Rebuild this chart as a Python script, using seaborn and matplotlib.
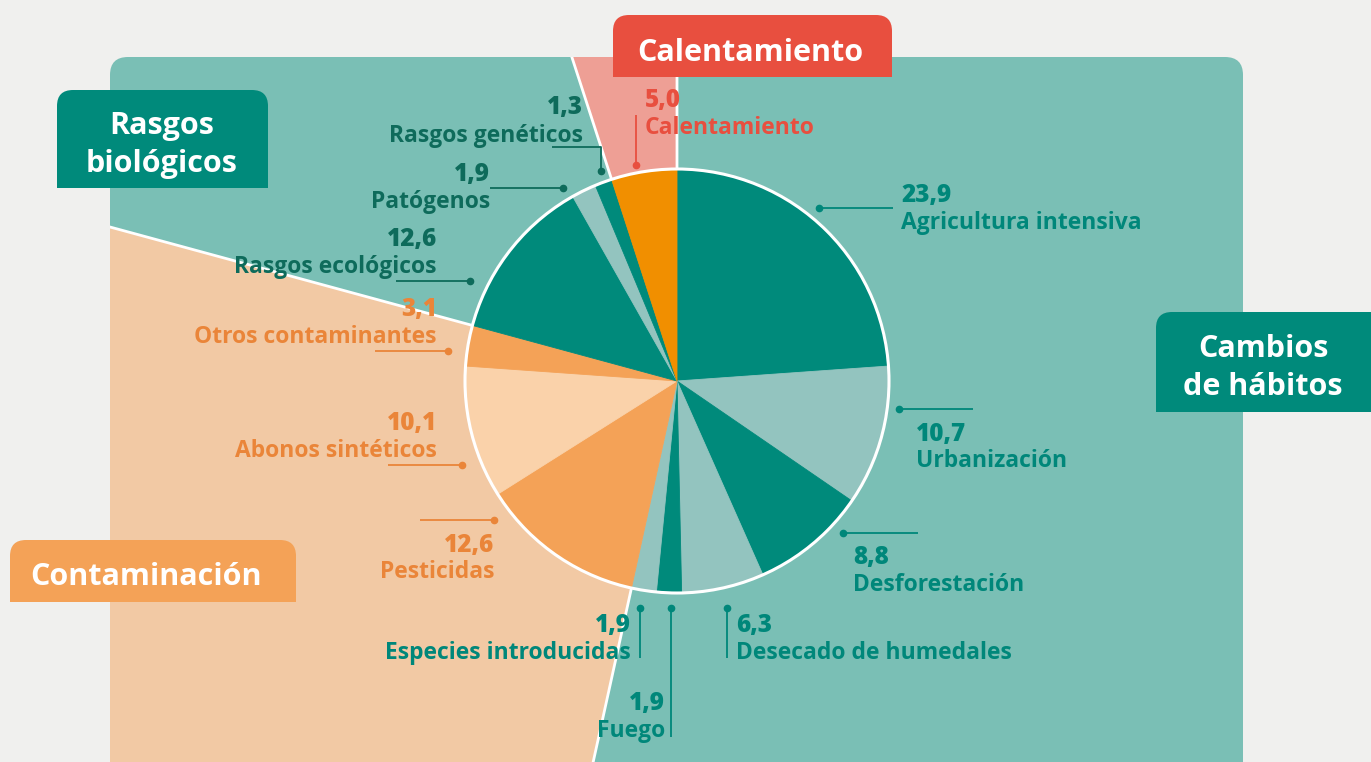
import matplotlib
matplotlib.use("Agg")
import matplotlib.pyplot as plt
import seaborn as sns
import numpy as np
from matplotlib.patches import FancyBboxPatch, Rectangle, Wedge, Circle

sns.set_theme(style="white")
plt.rcParams['font.family'] = ['Open Sans', 'DejaVu Sans']

# data, clockwise from the top
causes = ["Agricultura intensiva", "Urbanización", "Desforestación", "Desecado de humedales",
          "Fuego", "Especies introducidas", "Pesticidas", "Abonos sintéticos",
          "Otros contaminantes", "Rasgos ecológicos", "Patógenos", "Rasgos genéticos",
          "Calentamiento"]
values = [23.9, 10.7, 8.8, 6.3, 1.9, 1.9, 12.6, 10.1, 3.1, 12.6, 1.9, 1.3, 5.0]
groups = ["hab", "hab", "hab", "hab", "hab", "hab", "cont", "cont", "cont",
          "bio", "bio", "bio", "cal"]
group_titles = {"hab": "Cambios\nde hábitos", "cont": "Contaminación",
                "bio": "Rasgos\nbiológicos", "cal": "Calentamiento"}

# colours
BG = "#f0f0ee"
TEAL_BG = "#7abfb5"
DARK = "#008a7b"
LIGHT = "#93c4bf"
slice_colors = [DARK, LIGHT, DARK, LIGHT, DARK, LIGHT,
                "#f4a257", "#fad2aa", "#f4a257",
                DARK, LIGHT, DARK, "#f18f00"]
text_colors = {"hab": "#00877a", "cont": "#ea8539", "bio": "#0e6b5b", "cal": "#e84f3f"}
box_colors = {"hab": "#008a7b", "cont": "#f4a257", "bio": "#008a7b", "cal": "#e84f3f"}

CX, CY, R = 677, 381, 212
W, H = 1371, 762

fig = plt.figure(figsize=(13.71, 7.62), dpi=100, facecolor=BG)
ax = fig.add_axes([0, 0, 1, 1])
ax.set_facecolor(BG)

# background panel
panel = FancyBboxPatch((110, 57), 1133, 800, boxstyle="round,pad=0,rounding_size=18",
                       fc=TEAL_BG, ec="none", zorder=1)
ax.add_patch(panel)

# group regions extended from the pie centre
cum = np.concatenate([[0], np.cumsum(values)]) / sum(values)
def span(g):
    idx = [i for i, x in enumerate(groups) if x == g]
    return cum[idx[0]], cum[idx[-1] + 1]

region_fill = {"cont": "#f2c9a4", "cal": "#ee9f95"}
for g, col in region_fill.items():
    f0, f1 = span(g)
    w = Wedge((CX, CY), 2500, 360 * f0 - 90, 360 * f1 - 90, fc=col, ec="white", lw=2, zorder=2)
    ax.add_patch(w)
    w.set_clip_path(panel)

# the pie
wedges, _ = ax.pie(values, colors=slice_colors, startangle=-90, counterclock=True,
                   center=(CX, CY), radius=R, frame=True)
for w, c in zip(wedges, slice_colors):
    w.set_zorder(3)
    w.set_edgecolor(c)
    w.set_linewidth(0.6)
ax.add_patch(Circle((CX, CY), R, fc="none", ec="white", lw=2.2, zorder=4))

# label layout: (value x, value baseline, name baseline, ha, leader points)
layout = {
    "Agricultura intensiva": (901, 202, 229, "left", [(819, 208), (893, 208)]),
    "Urbanización": (916, 441, 467, "left", [(899, 409), (973, 409)]),
    "Desforestación": (853, 564, 591, "left", [(843, 533), (918, 533)]),
    "Desecado de humedales": (736, 632, 659, "left", [(727, 608), (727, 658)]),
    "Fuego": (665, 710, 737, "right", [(671, 608), (671, 737)]),
    "Especies introducidas": (631, 632, 659, "right", [(640, 608), (640, 658)]),
    "Pesticidas": (494, 552, 578, "right", [(494, 520), (420, 520)]),
    "Abonos sintéticos": (437, 430, 457, "right", [(462, 465), (388, 465)]),
    "Otros contaminantes": (437, 316, 343, "right", [(448, 351), (375, 351)]),
    "Rasgos ecológicos": (437, 246, 273, "right", [(470, 281), (396, 281)]),
    "Patógenos": (490, 181, 208, "right", [(563, 188), (490, 188)]),
    "Rasgos genéticos": (583, 114, 142, "right", [(601, 171), (601, 147), (552, 147)]),
    "Calentamiento": (645, 107, 134, "left", [(636, 165), (636, 115)]),
}

for name, val, g in zip(causes, values, groups):
    vx, vy, ny, ha, pts = layout[name]
    c = text_colors[g]
    xs, ys = zip(*pts)
    ax.plot(xs, ys, color=c, lw=1.3, zorder=5, solid_capstyle="butt")
    ax.plot(xs[0], ys[0], "o", color=c, ms=4.5, zorder=5)
    ax.text(vx, vy, f"{val:.1f}".replace(".", ","), color=c, fontsize=17.5,
            fontweight="heavy", ha=ha, va="baseline", zorder=6)
    ax.text(vx, ny, name, color=c, fontsize=16.5, fontweight="bold",
            ha=ha, va="baseline", zorder=6)

# group title boxes (rounded top, square bottom)
boxes = {
    "cal": (613, 15, 279, 62, [(750, 61)]),
    "bio": (57, 90, 211, 98, [(162, 134), (162, 172)]),
    "hab": (1156, 312, 230, 100, [(1263, 357), (1263, 395)]),
    "cont": (10, 540, 286, 62, [(146, 585)]),
}
for g, (x, y, w, h, lines) in boxes.items():
    ax.add_patch(FancyBboxPatch((x, y), w, h, boxstyle="round,pad=0,rounding_size=16",
                                fc=box_colors[g], ec="none", zorder=7))
    ax.add_patch(Rectangle((x, y + h / 2), w, h / 2, fc=box_colors[g], ec="none", zorder=7))
    for (tx, ty), line in zip(lines, group_titles[g].split("\n")):
        ax.text(tx, ty, line, color="white", fontsize=22, fontweight="bold",
                ha="center", va="baseline", zorder=8)

ax.set_xlim(0, W)
ax.set_ylim(H, 0)
ax.set_aspect("auto")
ax.axis("off")
fig.savefig("out.png", dpi=100, facecolor=BG)
